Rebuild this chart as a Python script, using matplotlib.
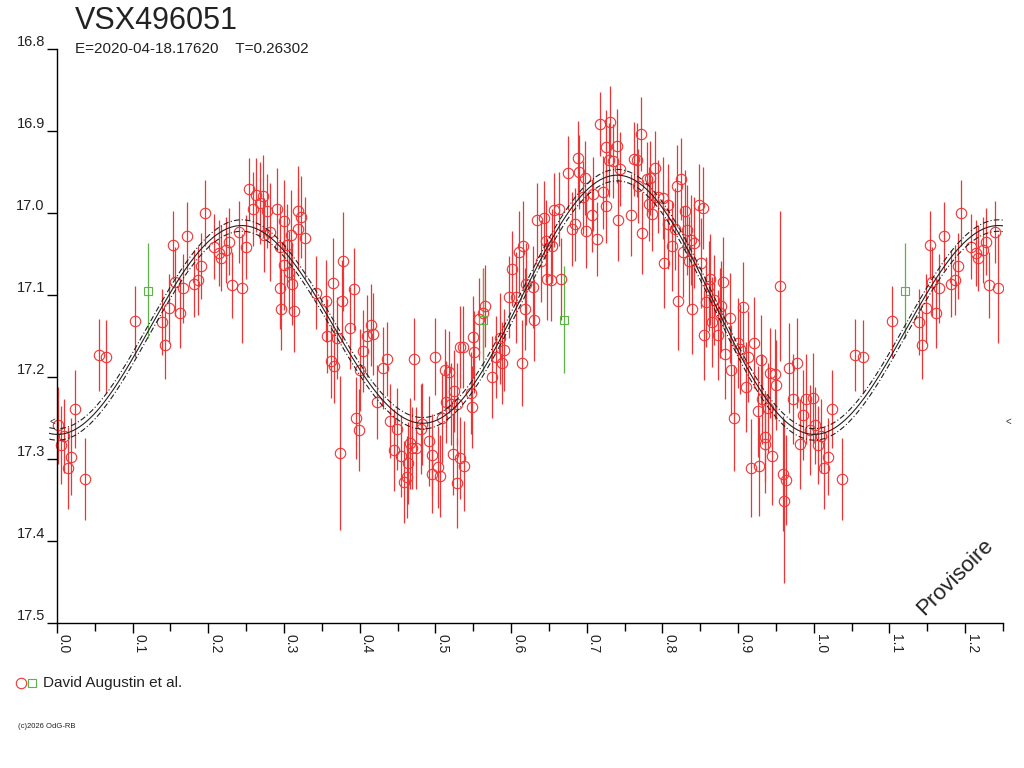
import matplotlib.pyplot as plt
from matplotlib.lines import Line2D
import numpy as np

plt.rcParams['font.family'] = ['Liberation Sans', 'DejaVu Sans']

# phase-folded photometry (red circles)
phase = [
    0.002, 0.005, 0.010, 0.014, 0.019, 0.024, 0.037, 0.055, 0.065, 0.103,
    0.139, 0.143, 0.148, 0.153, 0.156, 0.162, 0.166, 0.172, 0.181, 0.186,
    0.190, 0.195, 0.208, 0.214, 0.217, 0.223, 0.227, 0.231, 0.240, 0.244,
    0.250, 0.254, 0.259, 0.263, 0.268, 0.272, 0.273, 0.278, 0.282, 0.291,
    0.295, 0.295, 0.296, 0.300, 0.300, 0.304, 0.306, 0.310, 0.309, 0.313,
    0.318, 0.319, 0.323, 0.328, 0.342, 0.355, 0.357, 0.362, 0.365, 0.366,
    0.370, 0.374, 0.376, 0.378, 0.387, 0.392, 0.395, 0.399, 0.401, 0.404,
    0.410, 0.415, 0.418, 0.423, 0.431, 0.436, 0.440, 0.445, 0.449, 0.454,
    0.459, 0.463, 0.464, 0.466, 0.469, 0.472, 0.474,
    0.481, 0.483, 0.491, 0.495, 0.496, 0.500, 0.504, 0.506, 0.509, 0.513,
    0.514, 0.518, 0.521, 0.523, 0.524, 0.528, 0.529, 0.532, 0.532, 0.537,
    0.538, 0.547, 0.548, 0.550, 0.551, 0.558, 0.563, 0.566, 0.575, 0.580,
    0.585, 0.588, 0.591, 0.597, 0.601, 0.607, 0.610, 0.615, 0.616, 0.619,
    0.620, 0.629,
    0.630, 0.634, 0.639, 0.643, 0.646, 0.648, 0.653, 0.654, 0.657, 0.663,
    0.666, 0.675, 0.680, 0.684, 0.689, 0.690, 0.695, 0.698, 0.699, 0.707,
    0.708, 0.713, 0.717, 0.721, 0.726, 0.726, 0.730, 0.731, 0.735, 0.740,
    0.741, 0.744, 0.759, 0.763, 0.767, 0.768, 0.772, 0.773, 0.779, 0.782,
    0.783, 0.786, 0.790, 0.794,
    0.801, 0.802, 0.808, 0.813, 0.816, 0.819, 0.821, 0.825, 0.827, 0.830,
    0.833, 0.835, 0.838, 0.839, 0.842, 0.848, 0.851, 0.854, 0.855, 0.858,
    0.861, 0.863, 0.865, 0.868, 0.873, 0.876, 0.877, 0.880, 0.883, 0.889,
    0.891, 0.895, 0.900, 0.902, 0.907, 0.910, 0.913, 0.917, 0.921, 0.926,
    0.928, 0.930, 0.931, 0.935, 0.936, 0.940, 0.942, 0.945, 0.949, 0.950,
    0.955, 0.959, 0.960, 0.963, 0.967, 0.972, 0.978, 0.982, 0.986, 0.990,
    0.995, 0.999, 0.808,
]
mag = [
    17.259, 17.283, 17.272, 17.311, 17.297, 17.239, 17.324, 17.173, 17.175, 17.132,
    17.133, 17.161, 17.116, 17.039, 17.084, 17.122, 17.092, 17.028, 17.086, 17.082,
    17.065, 17.000, 17.041, 17.049, 17.055, 17.045, 17.035, 17.088, 17.023, 17.092,
    17.042, 16.971, 16.995, 16.978, 16.988, 16.979, 17.027, 16.998, 17.023, 16.995,
    17.041, 17.092, 17.117, 17.010, 17.063, 17.039, 17.072, 17.086, 17.027, 17.120,
    16.998, 17.019, 17.005, 17.031, 17.097, 17.107, 17.150, 17.181, 17.085, 17.187,
    17.153, 17.293, 17.107, 17.059, 17.140, 17.093, 17.250, 17.265, 17.192, 17.168,
    17.150, 17.136, 17.147, 17.230, 17.189, 17.178, 17.254, 17.289, 17.264, 17.296,
    17.328, 17.322, 17.305, 17.281, 17.287, 17.178, 17.287,
    17.263, 17.257, 17.278, 17.295, 17.318, 17.175, 17.310, 17.321, 17.250, 17.191,
    17.231, 17.194, 17.233, 17.294, 17.217, 17.329, 17.233, 17.299, 17.163, 17.164,
    17.309, 17.219, 17.237, 17.151, 17.169, 17.129, 17.122, 17.113, 17.200, 17.176,
    17.153, 17.183, 17.167, 17.103, 17.068, 17.103, 17.048, 17.183, 17.040, 17.117,
    17.086, 17.090,
    17.130, 17.009, 17.059, 17.006, 17.034, 17.081, 17.082, 17.040, 16.996, 16.995,
    17.081, 16.951, 17.020, 17.014, 16.933, 16.950, 16.981, 16.957, 17.022, 17.003,
    16.977, 17.032, 16.892, 16.975, 16.919, 16.991, 16.935, 16.889, 16.937, 16.918,
    17.008, 16.946, 17.002, 16.934, 16.935, 16.967, 16.904, 17.025, 16.958, 16.989,
    16.957, 17.001, 16.945, 16.980,
    16.982, 17.061, 16.990, 17.040, 17.019, 16.967, 17.107, 16.958, 17.047, 16.998,
    17.021, 17.059, 17.033, 17.117, 17.036, 16.990, 17.061, 16.994, 17.149, 17.109,
    17.089, 17.081, 17.133, 17.106, 17.149, 17.122, 17.114, 17.084, 17.172, 17.128,
    17.191, 17.250, 17.159, 17.166, 17.115, 17.212, 17.175, 17.311, 17.158, 17.242,
    17.309, 17.179, 17.227, 17.282, 17.273, 17.238, 17.195, 17.296, 17.196, 17.210,
    17.089, 17.318, 17.351, 17.326, 17.189, 17.227, 17.183, 17.282, 17.246, 17.227,
    17.265, 17.226, 17.013,
]
err = [
    0.047, 0.048, 0.045, 0.050, 0.047, 0.047, 0.050, 0.044, 0.045, 0.043,
    0.040, 0.042, 0.042, 0.041, 0.042, 0.043, 0.042, 0.041, 0.041, 0.042,
    0.040, 0.040, 0.040, 0.040, 0.040, 0.040, 0.041, 0.040, 0.038, 0.066,
    0.039, 0.038, 0.045, 0.045, 0.050, 0.050, 0.045, 0.045, 0.060, 0.050,
    0.050, 0.050, 0.050, 0.050, 0.055, 0.050, 0.050, 0.050, 0.055, 0.050,
    0.055, 0.050, 0.050, 0.050, 0.045, 0.050, 0.045, 0.045, 0.055, 0.045,
    0.050, 0.094, 0.050, 0.060, 0.050, 0.050, 0.050, 0.050, 0.050, 0.050,
    0.050, 0.050, 0.050, 0.045, 0.050, 0.045, 0.045, 0.050, 0.050, 0.050,
    0.050, 0.050, 0.050, 0.055, 0.050, 0.050, 0.050,
    0.055, 0.050, 0.055, 0.050, 0.048, 0.047, 0.050, 0.050, 0.055, 0.050,
    0.050, 0.050, 0.050, 0.050, 0.050, 0.055, 0.050, 0.050, 0.050, 0.050,
    0.055, 0.050, 0.050, 0.050, 0.050, 0.050, 0.055, 0.050, 0.050, 0.050,
    0.055, 0.050, 0.050, 0.050, 0.046, 0.055, 0.050, 0.052, 0.055, 0.050,
    0.050, 0.050,
    0.050, 0.045, 0.050, 0.045, 0.050, 0.050, 0.050, 0.045, 0.045, 0.045,
    0.050, 0.045, 0.045, 0.045, 0.045, 0.045, 0.045, 0.045, 0.045, 0.045,
    0.045, 0.045, 0.039, 0.045, 0.045, 0.045, 0.045, 0.044, 0.045, 0.045,
    0.050, 0.045, 0.050, 0.045, 0.045, 0.045, 0.045, 0.050, 0.045, 0.045,
    0.045, 0.045, 0.045, 0.045,
    0.050, 0.055, 0.050, 0.055, 0.050, 0.050, 0.060, 0.050, 0.055, 0.050,
    0.055, 0.055, 0.055, 0.055, 0.055, 0.050, 0.055, 0.050, 0.055, 0.055,
    0.055, 0.055, 0.055, 0.055, 0.055, 0.055, 0.055, 0.055, 0.055, 0.055,
    0.055, 0.065, 0.055, 0.055, 0.055, 0.055, 0.055, 0.060, 0.055, 0.055,
    0.060, 0.055, 0.055, 0.060, 0.055, 0.055, 0.055, 0.060, 0.055, 0.055,
    0.091, 0.070, 0.100, 0.055, 0.055, 0.055, 0.055, 0.055, 0.055, 0.055,
    0.055, 0.055, 0.055,
]

# second set (green squares)
green_phase = [0.120, 0.563, 0.670]
green_mag = [17.095, 17.131, 17.130]
green_err = [0.058, 0.063, 0.065]

star_name = 'VSX496051'
ephem_text = 'E=2020-04-18.17620    T=0.26302'
observer = 'David Augustin et al.'

RED = '#ee3535'
GREEN = '#5cb346'


def repeat_phase(ph, m, e, upto=0.25):
    ph, m, e = np.asarray(ph), np.asarray(m), np.asarray(e)
    sel = ph < upto
    return (np.concatenate([ph, ph[sel] + 1.0]),
            np.concatenate([m, m[sel]]),
            np.concatenate([e, e[sel]]))


def harmonic_design(ph, nharm):
    cols = [np.ones_like(ph)]
    for k in range(1, nharm + 1):
        cols.append(np.cos(2 * np.pi * k * ph))
        cols.append(np.sin(2 * np.pi * k * ph))
    return np.column_stack(cols)


def draw_chart():
    # fourier fit of the folded light curve (drawn as the model line)
    ph_all = np.concatenate([phase, green_phase])
    mag_all = np.concatenate([mag, green_mag])
    coef, *_ = np.linalg.lstsq(harmonic_design(ph_all, 2), mag_all, rcond=None)

    fig = plt.figure(figsize=(10.24, 7.68), dpi=100)
    ax = fig.add_axes([0.0482, 0.1888, 0.9313, 0.7474])
    ax.set_xlim(-0.01, 1.25)
    ax.set_ylim(17.5, 16.8)

    grid = np.linspace(-0.01, 1.25, 800)
    model = harmonic_design(grid, 2) @ coef
    ax.plot(grid, model, color='#222222', lw=0.8, zorder=3)
    ax.plot(grid, model - 0.007, color='#222222', lw=0.8, dashes=(5, 2, 1, 2), zorder=3)
    ax.plot(grid, model + 0.007, color='#222222', lw=0.8, dashes=(5, 2, 1, 2), zorder=3)

    px, pm, pe = repeat_phase(phase, mag, err)
    ax.errorbar(px, pm, yerr=pe, fmt='none', ecolor=RED, elinewidth=0.9, capsize=0, zorder=1)
    ax.plot(px, pm, 'o', ms=7.5, mfc='none', mec=RED, mew=0.8, zorder=2)

    gx, gm, ge = repeat_phase(green_phase, green_mag, green_err)
    ax.errorbar(gx, gm, yerr=ge, fmt='none', ecolor=GREEN, elinewidth=0.9, capsize=0, zorder=1)
    ax.plot(gx, gm, 's', ms=5.5, mfc='none', mec=GREEN, mew=0.8, zorder=2)

    # axes look
    for side in ['top', 'right']:
        ax.spines[side].set_visible(False)
    ax.spines['left'].set_position(('data', 0))
    ax.spines['bottom'].set_bounds(0, 1.25)
    ax.spines['left'].set_linewidth(1.0)
    ax.spines['bottom'].set_linewidth(1.0)

    xt = np.round(np.arange(0, 1.21, 0.1), 2)
    ax.set_xticks(xt)
    ax.set_xticks(np.round(np.arange(0.05, 1.26, 0.1), 2), minor=True)
    ax.set_xticklabels(['%.1f' % t for t in xt], rotation=-90, ha='left', va='top',
                       fontsize=10, color='#222222')
    ax.tick_params(axis='x', which='major', length=7.2, width=1.0, pad=1, direction='out')
    ax.tick_params(axis='x', which='minor', length=6.0, width=1.0, direction='out')

    yt = np.round(np.arange(16.8, 17.51, 0.1), 2)
    ax.set_yticks(yt)
    ax.set_yticklabels(['%.1f' % t for t in yt], fontsize=10.5, color='#222222')
    for lab in ax.get_yticklabels():
        lab.set_verticalalignment('bottom')
    ax.tick_params(axis='y', length=7.2, width=1.0, pad=1.5, direction='out')

    # texts around the plot
    fig.text(75 / 1024, 1 - 29 / 768, star_name, fontsize=22, va='baseline', color='#222222')
    fig.text(75 / 1024, 1 - 53 / 768, ephem_text, fontsize=11, va='baseline', color='#222222')
    fig.text(955 / 1024, 1 - 577 / 768, 'Provisoire', rotation=45, ha='center', va='center',
             fontsize=16, color='#222222')
    fig.text(52 / 1024, 1 - 422 / 768, '<', fontsize=7, ha='center', va='center', color='#333333')
    fig.text(1008 / 1024, 1 - 422 / 768, '<', fontsize=7, ha='center', va='center', color='#333333')

    fig.add_artist(Line2D([21 / 1024], [1 - 683 / 768], transform=fig.transFigure,
                          marker='o', ms=7.5, mfc='none', mec=RED, mew=0.8))
    fig.add_artist(Line2D([32 / 1024], [1 - 683 / 768], transform=fig.transFigure,
                          marker='s', ms=5.5, mfc='none', mec=GREEN, mew=0.8))
    fig.text(43 / 1024, 1 - 683 / 768, observer, fontsize=11, va='center', color='#222222')
    fig.text(18 / 1024, 1 - 726 / 768, '(c)2026 OdG-RB', fontsize=5.5, va='center', color='#222222')

    fig.savefig('out.png', dpi=100)


if __name__ == "__main__":
    draw_chart()
